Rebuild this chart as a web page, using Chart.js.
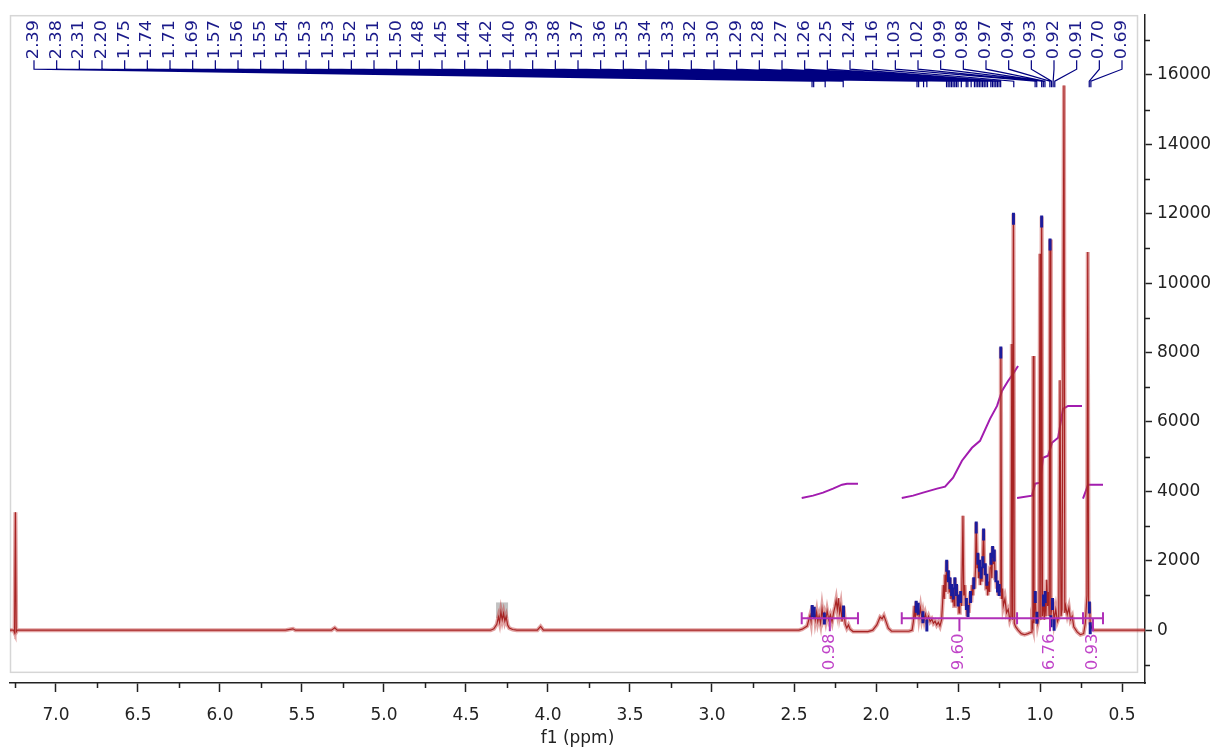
<!DOCTYPE html>
<html>
<head>
<meta charset="utf-8">
<title>1H NMR</title>
<script src="https://cdn.jsdelivr.net/npm/chart.js@4.4.1/dist/chart.umd.min.js"></script>
<style>
  html, body { margin: 0; padding: 0; background: #fff; }
  #wrap { width: 1226px; height: 749px; position: relative; }
</style>
</head>
<body>
<div id="wrap"><canvas id="nmr"></canvas></div>
<script>
// spectrum trace: chemical shift (ppm) / intensity
const shift = [
  7.28, 7.258, 7.252, 7.247, 7.242, 7.236,
  5.60, 5.555, 5.54, 5.32, 5.30, 5.285,
  4.35, 4.33, 4.312, 4.302, 4.295, 4.287, 4.279, 4.271, 4.263, 4.255, 4.246, 4.236, 4.215, 4.19,
  4.065, 4.045, 4.028,
  2.47, 2.45, 2.42, 2.402, 2.396, 2.389, 2.383, 2.377, 2.37, 2.362, 2.355, 2.347, 2.338, 2.329, 2.322, 2.315,
  2.307, 2.298, 2.288, 2.278, 2.268, 2.258, 2.25, 2.243, 2.236, 2.229, 2.222, 2.215, 2.207, 2.198, 2.188,
  2.178, 2.168, 2.158, 2.14, 2.05,
  2.02, 1.995, 1.975, 1.963, 1.952, 1.94, 1.925, 1.905,
  1.80, 1.78, 1.772, 1.766, 1.761, 1.755, 1.749, 1.743, 1.737, 1.729, 1.721, 1.714, 1.706, 1.699, 1.69,
  1.68, 1.67, 1.66, 1.65, 1.64, 1.63, 1.62, 1.61,
  1.60, 1.594, 1.589, 1.584, 1.579, 1.574, 1.569, 1.564, 1.559, 1.554, 1.549, 1.544, 1.539, 1.534, 1.529,
  1.524, 1.519, 1.514, 1.509, 1.504, 1.499, 1.494, 1.489, 1.484, 1.478, 1.470, 1.465, 1.459, 1.454, 1.449,
  1.444, 1.439, 1.434, 1.429, 1.424, 1.419, 1.414, 1.409, 1.404, 1.399, 1.394, 1.389, 1.384, 1.379, 1.374,
  1.369, 1.364, 1.359, 1.354, 1.349, 1.344, 1.339, 1.334, 1.329, 1.324, 1.319, 1.314, 1.309, 1.304, 1.299,
  1.294, 1.289, 1.284, 1.279, 1.274, 1.269, 1.264, 1.259, 1.254, 1.249, 1.244, 1.239, 1.234, 1.229, 1.224,
  1.214, 1.204, 1.194, 1.184, 1.177, 1.172, 1.168, 1.162, 1.157, 1.149,
  1.134, 1.114, 1.094, 1.074, 1.054, 1.049, 1.044, 1.041, 1.037, 1.029, 1.024, 1.019, 1.014, 1.006, 1.000,
  0.995, 0.990, 0.985, 0.979, 0.974, 0.969, 0.964, 0.959, 0.954, 0.949, 0.944, 0.939, 0.934, 0.924, 0.914,
  0.904, 0.894, 0.886, 0.878, 0.872, 0.866, 0.854, 0.849, 0.844, 0.834, 0.824, 0.814, 0.804, 0.794, 0.774,
  0.754, 0.734, 0.724, 0.714, 0.709, 0.704, 0.699, 0.694, 0.684, 0.674, 0.60, 0.36
];
const intensity = [
  0, 0, -70, 3400, -50, 0,
  0, 40, 0, 0, 70, 0,
  0, 40, 170, 380, 230, 520, 300, 480, 260, 390, 150, 60, 20, 0,
  0, 110, 0,
  0, 30, 120, 430, 260, 700, 380, 650, 300, 520, 250, 420, 200, 620, 350, 480,
  280, 560, 300, 440, 250, 520, 680, 860, 600, 920, 500, 700, 250, 680, 180,
  60, 150, 30, -40, -40,
  0, 150, 380, 330, 420, 260, 60, -30,
  -30, 0, 250, 700, 330, 820, 420, 760, 400, 640, 350, 520, 300, 460, 280,
  400, 250, 320, 200, 260, 150, 230, 120,
  300, 800, 1300, 900, 1600, 1100, 2000, 1400, 1700, 1100, 1500, 900, 1300, 800, 1200,
  700, 1500, 1000, 1300, 700, 1000, 500, 800, 1100, 700, 3300, 1000, 1300, 700, 900,
  400, 700, 500, 900, 1100, 800, 1300, 1000, 1500, 1200, 1700, 3100, 1800, 2200, 1500,
  2000, 1300, 1800, 1400, 2100, 2900, 1600, 1900, 1200, 1600, 1000, 1400, 1100, 1800, 2200,
  1500, 2400, 1900, 2300, 1500, 1700, 1200, 1400, 1000, 1300, 1100, 8150, 900, 1200, 700,
  900, 500, 600, 300, 400, 8250, 300, 12000, 200, 100,
  0, -100, -130, -100, -60, 200, 100, 7900, 200, 1100, 300, 500, 200, 400, 10850,
  300, 11920, 400, 1000, 300, 1100, 400, 1450, 700, 1100, 400, 11260, 400, 900, 300,
  600, 250, 350, 7200, 400, 600, 15700, 500, 700, 450, 650, 300, 400, 100, -50,
  -130, -100, 200, 1000, 10900, 600, 800, 200, 50, 0, 0, 0
];

// picked peaks (ppm)
const peakLabels = [
  '2.39', '2.38', '2.31', '2.20', '1.75', '1.74', '1.71', '1.69', '1.57', '1.56', '1.55', '1.54',
  '1.53', '1.53', '1.52', '1.51', '1.50', '1.48', '1.45', '1.44', '1.42', '1.40', '1.39', '1.38',
  '1.37', '1.36', '1.35', '1.34', '1.33', '1.32', '1.30', '1.29', '1.28', '1.27', '1.26', '1.25',
  '1.24', '1.16', '1.03', '1.02', '0.99', '0.98', '0.97', '0.94', '0.93', '0.92', '0.91', '0.70', '0.69'
];

// integral curves
const int1Shift = [2.453, 2.384, 2.323, 2.262, 2.207, 2.177, 2.110];
const int1Value = [3812, 3878, 3964, 4079, 4194, 4223, 4223];
const int2Shift = [1.843, 1.774, 1.713, 1.628, 1.579, 1.530, 1.476, 1.415, 1.366, 1.305, 1.262, 1.232, 1.195, 1.165, 1.134];
const int2Value = [3812, 3878, 3964, 4079, 4136, 4395, 4883, 5257, 5458, 6090, 6463, 6894, 7181, 7382, 7612];
const int3Shift = [1.140, 1.049, 1.030, 1.000, 0.982, 0.951, 0.927, 0.890, 0.860, 0.829, 0.744];
const int3Value = [3812, 3878, 4223, 4251, 4969, 5027, 5400, 5544, 6377, 6463, 6463];
const int4Shift = [0.738, 0.707, 0.616];
const int4Value = [3792, 4194, 4194];

// integration regions
const regionFrom = [2.453, 1.843, 1.140, 0.738];
const regionTo = [2.110, 1.140, 0.738, 0.616];
const regionArea = ['0.98', '9.60', '6.76', '0.93'];

// axis ticks
const ppmTicks = [0.5, 1.0, 1.5, 2.0, 2.5, 3.0, 3.5, 4.0, 4.5, 5.0, 5.5, 6.0, 6.5, 7.0];
const intensityTicks = [0, 2000, 4000, 6000, 8000, 10000, 12000, 14000, 16000];

const FONT = 'DejaVu Sans';
const pts = (xs, ys) => xs.map((v, i) => ({ x: v, y: ys[i] }));
const integralSet = (xs, ys) => ({
  data: pts(xs, ys), borderColor: '#a21caf', borderWidth: 2,
  pointRadius: 0, tension: 0, fill: false
});

// rotated text, reading bottom to top, slightly stretched along the baseline
function upText(ctx, text, x, y, stretch) {
  ctx.save();
  ctx.translate(x, y);
  ctx.rotate(-Math.PI / 2);
  ctx.scale(stretch, 1);
  ctx.fillText(text, 0, 0);
  ctx.restore();
}

const decor = {
  id: 'decor',
  beforeDatasetsDraw(chart) {
    const { ctx, chartArea: a, scales: { x, y } } = chart;
    ctx.save();
    // plot frame
    ctx.strokeStyle = '#d6d6d6';
    ctx.lineWidth = 1.5;
    ctx.strokeRect(a.left + 0.5, a.top + 0.5, a.right - a.left - 8, y.getPixelForValue(-1200) - a.top);
    // multiplet marker
    const mx = x.getPixelForValue(4.28);
    ctx.fillStyle = 'rgba(120,120,120,0.45)';
    ctx.fillRect(mx - 6, y.getPixelForValue(800), 12, y.getPixelForValue(350) - y.getPixelForValue(800));
    ctx.restore();
  },
  afterDatasetsDraw(chart) {
    const { ctx, chartArea: a, scales: { x, y } } = chart;
    ctx.save();

    // minor ticks on both axes
    ctx.strokeStyle = '#222';
    ctx.lineWidth = 1.5;
    ctx.beginPath();
    ppmTicks.forEach(v => {
      [v - 0.25, v + 0.25].forEach(m => {
        if (m <= x.min || m >= x.max || m === v + 0.25 && v !== ppmTicks[ppmTicks.length - 1]) return;
        const px = Math.round(x.getPixelForValue(m)) + 0.5;
        ctx.moveTo(px, a.bottom); ctx.lineTo(px, a.bottom + 5);
      });
    });
    intensityTicks.forEach(v => {
      [v - 1000, v + 1000].forEach(m => {
        if (m <= y.min || m >= y.max || m === v + 1000 && v !== intensityTicks[intensityTicks.length - 1]) return;
        const py = Math.round(y.getPixelForValue(m)) + 0.5;
        ctx.moveTo(a.right, py); ctx.lineTo(a.right + 5, py);
      });
    });
    ctx.stroke();

    // peak picking labels and connectors
    const n = peakLabels.length;
    const x0 = a.left + 24, x1 = a.right - 23;
    const yText = a.top + 44, yTick = a.top + 54, yFan = a.top + 66, yStub = a.top + 72;
    ctx.strokeStyle = '#000080';
    ctx.lineWidth = 1.2;
    ctx.beginPath();
    peakLabels.forEach((lab, i) => {
      const lx = x0 + (x1 - x0) * i / (n - 1);
      const px = x.getPixelForValue(parseFloat(lab));
      ctx.moveTo(lx, yText + 1);
      ctx.lineTo(lx, yTick);
      ctx.lineTo(px, yFan);
      ctx.lineTo(px, yStub);
    });
    ctx.stroke();
    ctx.fillStyle = '#1a1a8a';
    ctx.font = '15px "' + FONT + '"';
    ctx.textAlign = 'left';
    ctx.textBaseline = 'middle';
    peakLabels.forEach((lab, i) => {
      upText(ctx, lab, x0 + (x1 - x0) * i / (n - 1), yText, 1.17);
    });

    // peak caps on the trace
    ctx.strokeStyle = '#1c1c9c';
    ctx.lineWidth = 3;
    ctx.beginPath();
    peakLabels.forEach(lab => {
      const p = parseFloat(lab);
      let best = -1;
      shift.forEach((s, k) => {
        if (Math.abs(s - p) <= 0.006 && (best < 0 || intensity[k] > intensity[best])) best = k;
      });
      if (best < 0) return;
      const px = x.getPixelForValue(shift[best]);
      const py = y.getPixelForValue(intensity[best]);
      ctx.moveTo(px, py - 1);
      ctx.lineTo(px, py + 11);
    });
    ctx.stroke();

    // integration brackets
    const yb = y.getPixelForValue(345);
    ctx.strokeStyle = '#b030b8';
    ctx.lineWidth = 2;
    ctx.beginPath();
    regionFrom.forEach((f, i) => {
      const xa = x.getPixelForValue(f), xb = x.getPixelForValue(regionTo[i]);
      const cx = (xa + xb) / 2;
      ctx.moveTo(xa, yb); ctx.lineTo(xb, yb);
      ctx.moveTo(xa, yb - 6); ctx.lineTo(xa, yb + 6);
      ctx.moveTo(xb, yb - 6); ctx.lineTo(xb, yb + 6);
      ctx.moveTo(cx, yb); ctx.lineTo(cx, yb + 13);
    });
    ctx.stroke();
    ctx.fillStyle = '#c044c8';
    ctx.font = '15px "' + FONT + '"';
    regionFrom.forEach((f, i) => {
      const cx = (x.getPixelForValue(f) + x.getPixelForValue(regionTo[i])) / 2;
      upText(ctx, regionArea[i], cx, yb + 52, 1.1);
    });
    ctx.restore();
  }
};

new Chart(document.getElementById('nmr'), {
  type: 'line',
  data: {
    datasets: [
      { data: pts(shift, intensity), borderColor: 'rgba(196,70,70,0.5)', borderWidth: 4,
        pointRadius: 0, tension: 0, fill: false },
      { data: pts(shift, intensity), borderColor: '#8b0000', borderWidth: 1.2,
        pointRadius: 0, tension: 0, fill: false },
      integralSet(int1Shift, int1Value),
      integralSet(int2Shift, int2Value),
      integralSet(int3Shift, int3Value),
      integralSet(int4Shift, int4Value)
    ]
  },
  options: {
    responsive: true,
    maintainAspectRatio: false,
    animation: false,
    devicePixelRatio: 1,
    layout: { padding: { left: 10, top: 13, right: 0, bottom: 0 } },
    plugins: { legend: { display: false }, tooltip: { enabled: false } },
    scales: {
      x: {
        type: 'linear',
        reverse: true,
        min: 0.36,
        max: 7.28,
        afterBuildTicks: s => { s.ticks = ppmTicks.map(v => ({ value: v })); },
        afterFit: s => { s.height = 66; },
        border: { display: true, color: '#222', width: 1.5 },
        grid: { drawOnChartArea: false, drawTicks: true, tickLength: 9, tickColor: '#222', tickWidth: 1.5 },
        ticks: {
          autoSkip: false, maxRotation: 0,
          padding: 13, color: '#222', font: { family: FONT, size: 17 },
          callback: v => v.toFixed(1)
        },
        title: { display: true, text: 'f1 (ppm)', color: '#222', font: { family: FONT, size: 17 },
          padding: { top: 0, bottom: 0 } }
      },
      y: {
        type: 'linear',
        position: 'right',
        min: -1522,
        max: 17723,
        afterBuildTicks: s => { s.ticks = intensityTicks.map(v => ({ value: v })); },
        afterFit: s => { s.width = 81; },
        border: { display: true, color: '#222', width: 1.5 },
        grid: { drawOnChartArea: false, drawTicks: true, tickLength: 7, tickWidth: 1.5, tickColor: '#222' },
        ticks: {
          autoSkip: false,
          padding: 5, color: '#222', font: { family: FONT, size: 17 },
          callback: v => String(v)
        }
      }
    }
  },
  plugins: [decor]
});
</script>
</body>
</html>
